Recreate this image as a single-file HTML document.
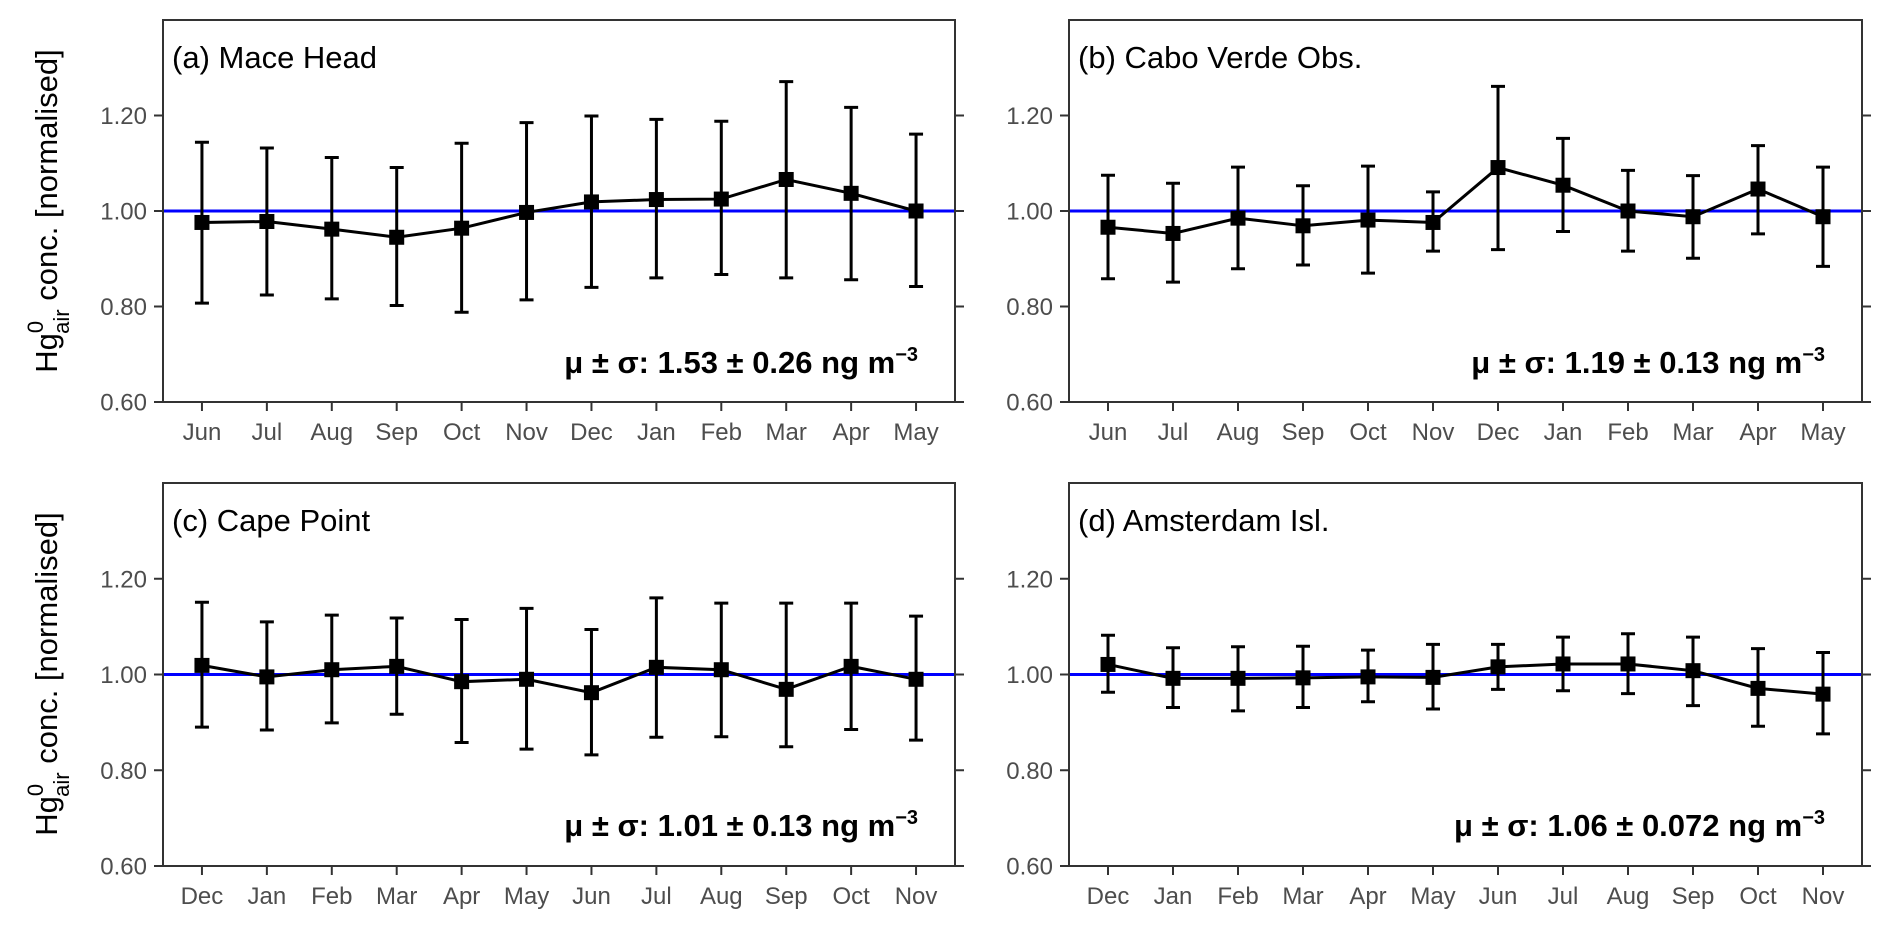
<!DOCTYPE html>
<html><head><meta charset="utf-8"><style>
html,body{margin:0;padding:0;background:#fff;}
svg{display:block;font-family:"Liberation Sans",sans-serif;}
</style></head><body>
<svg id="fig" width="1892" height="928" viewBox="0 0 1892 928"></svg>
<script>
const monthsTop = ["Jun","Jul","Aug","Sep","Oct","Nov","Dec","Jan","Feb","Mar","Apr","May"];
const monthsBot = ["Dec","Jan","Feb","Mar","Apr","May","Jun","Jul","Aug","Sep","Oct","Nov"];
const yTicks = [0.6, 0.8, 1.0, 1.2];
const yTickLabels = ["0.60","0.80","1.00","1.20"];

const meanA = [0.976,0.978,0.962,0.945,0.964,0.997,1.019,1.024,1.025,1.066,1.037,1.000];
const hiA   = [1.144,1.132,1.112,1.091,1.142,1.185,1.199,1.192,1.188,1.271,1.217,1.161];
const loA   = [0.807,0.824,0.816,0.802,0.788,0.814,0.840,0.860,0.867,0.860,0.856,0.842];

const meanB = [0.966,0.953,0.985,0.969,0.981,0.976,1.091,1.054,1.000,0.988,1.046,0.988];
const hiB   = [1.075,1.058,1.092,1.053,1.094,1.040,1.261,1.152,1.085,1.074,1.137,1.092];
const loB   = [0.858,0.851,0.879,0.887,0.870,0.916,0.919,0.957,0.916,0.901,0.952,0.884];

const meanC = [1.019,0.995,1.010,1.017,0.985,0.990,0.962,1.015,1.010,0.969,1.017,0.990];
const hiC   = [1.151,1.110,1.124,1.118,1.115,1.138,1.094,1.160,1.149,1.149,1.149,1.122];
const loC   = [0.890,0.884,0.899,0.917,0.858,0.844,0.832,0.869,0.870,0.849,0.885,0.863];

const meanD = [1.021,0.992,0.992,0.993,0.995,0.994,1.016,1.022,1.022,1.008,0.971,0.959];
const hiD   = [1.082,1.056,1.058,1.059,1.051,1.063,1.063,1.078,1.085,1.078,1.054,1.046];
const loD   = [0.963,0.931,0.924,0.931,0.943,0.928,0.969,0.966,0.960,0.935,0.892,0.876];

const titles = ["(a) Mace Head","(b) Cabo Verde Obs.","(c) Cape Point","(d) Amsterdam Isl."];
const stats = ["1.53 ± 0.26","1.19 ± 0.13","1.01 ± 0.13","1.06 ± 0.072"];

const NS = "http://www.w3.org/2000/svg";
const svg = document.getElementById("fig");
function mk(tag, attrs, parent){
  const e = document.createElementNS(NS, tag);
  for (const k in attrs) e.setAttribute(k, attrs[k]);
  (parent||svg).appendChild(e);
  return e;
}

const panels = [
  {x0:163,x1:955,y0:20,y1:402,months:monthsTop,mean:meanA,hi:hiA,lo:loA},
  {x0:1069,x1:1862,y0:20,y1:402,months:monthsTop,mean:meanB,hi:hiB,lo:loB},
  {x0:163,x1:955,y0:483,y1:866,months:monthsBot,mean:meanC,hi:hiC,lo:loC},
  {x0:1069,x1:1862,y0:483,y1:866,months:monthsBot,mean:meanD,hi:hiD,lo:loD}
];
const keys = ["a","b","c","d"];

panels.forEach((p, pi) => {
  const g = mk("g", {});
  
  
  const yMin = 0.6, yMax = 1.4;
  const ys = v => p.y1 - (v - yMin) / (yMax - yMin) * (p.y1 - p.y0);
  const n = p.months.length;
  const unit = (p.x1 - p.x0) / (n - 1 + 1.2);
  const xs = i => p.x0 + (0.6 + i) * unit;

  const ref = mk("line", {x1:p.x0, x2:p.x1, y1:ys(1), y2:ys(1), stroke:"#0000ff", "stroke-width":3}, g);
  
  

  yTicks.forEach((t, k) => {
    const y = ys(t);
    const tl = mk("line", {x1:p.x0-9, x2:p.x0, y1:y, y2:y, stroke:"#333", "stroke-width":2}, g);
    
    
    const tr = mk("line", {x1:p.x1, x2:p.x1+9, y1:y, y2:y, stroke:"#333", "stroke-width":2}, g);
    
    
    const lb = mk("text", {x:p.x0-16, y:y+8.5, "text-anchor":"end", "font-size":24, fill:"#4d4d4d"}, g);
    lb.textContent = yTickLabels[k];
    
    
  });

  p.months.forEach((m, i) => {
    const x = xs(i);
    const t = mk("line", {x1:x, x2:x, y1:p.y1, y2:p.y1+9, stroke:"#333", "stroke-width":2}, g);
    
    
    const lb = mk("text", {x:x, y:p.y1+38, "text-anchor":"middle", "font-size":24, fill:"#4d4d4d"}, g);
    lb.textContent = m;
    
    
  });

  p.mean.forEach((v, i) => {
    const x = xs(i);
    const eb = mk("path", {d:`M${x-7},${ys(p.hi[i])}H${x+7}M${x},${ys(p.hi[i])}V${ys(p.lo[i])}M${x-7},${ys(p.lo[i])}H${x+7}`, stroke:"#000", "stroke-width":3, fill:"none"}, g);
    
    
  });

  const pts = p.mean.map((v, i) => xs(i) + "," + ys(v)).join(" ");
  const pl = mk("polyline", {points:pts, fill:"none", stroke:"#000", "stroke-width":3}, g);
  
  

  p.mean.forEach((v, i) => {
    const r = mk("rect", {x:xs(i)-7.5, y:ys(v)-7.5, width:15, height:15, fill:"#000"}, g);
    
    
  });

  const fr = mk("rect", {x:p.x0, y:p.y0, width:p.x1-p.x0, height:p.y1-p.y0, fill:"none", stroke:"#333", "stroke-width":2}, g);
  
  

  const tt = mk("text", {x:p.x0+9, y:p.y0+48, "font-size":31, fill:"#000"}, g);
  tt.textContent = titles[pi];
  
  

  const st = mk("text", {x:p.x1-37, y:p.y0+353, "text-anchor":"end", "font-size":31, "font-weight":"bold", fill:"#000"}, g);
  
  
  st.appendChild(document.createTextNode("μ ± σ: " + stats[pi] + " ng m"));
  const sup = mk("tspan", {dy:-12, "font-size":20}, st);
  sup.textContent = "−3";
});

[211, 674].forEach(cy => {
  const t = mk("text", {transform:`translate(57,${cy}) rotate(-90)`, "text-anchor":"middle", "font-size":31, fill:"#000"});
  
  
  t.appendChild(document.createTextNode("Hg"));
  const s1 = mk("tspan", {dy:-14, "font-size":22}, t); s1.textContent = "0";
  const s2 = mk("tspan", {dx:-13, dy:26, "font-size":22}, t); s2.textContent = "air";
  const s3 = mk("tspan", {dy:-12}, t); s3.textContent = " conc. [normalised]";
});
</script>
</body></html>
